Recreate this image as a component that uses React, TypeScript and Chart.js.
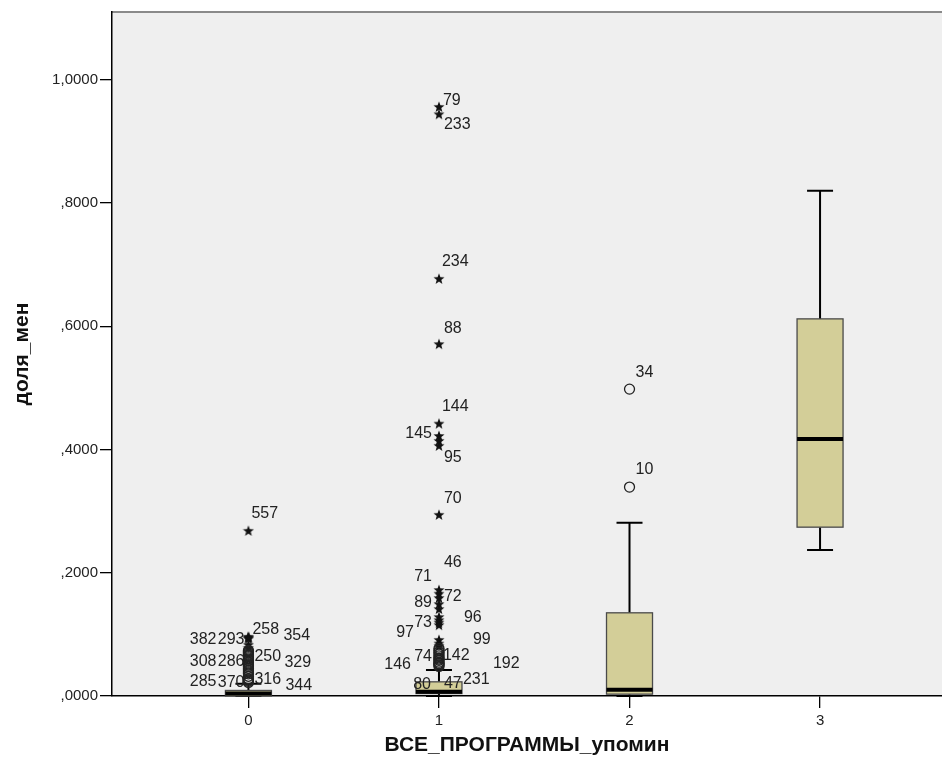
import React, { useEffect, useRef } from "react";
import { Chart, registerables } from "chart.js";
Chart.register(...registerables);

// ---------- data ----------
const categories = [0, 1, 2, 3];
const whiskerLow = [0, 0, 0, 0.237];
const q1 = [0, 0.004, 0.003, 0.274];
const medians = [0.004, 0.007, 0.01, 0.417];
const q3 = [0.009, 0.023, 0.135, 0.612];
const whiskerHigh = [0.02, 0.042, 0.281, 0.82];

const yTicks = [0, 0.2, 0.4, 0.6, 0.8, 1.0];

// extreme outliers (stars)
const starCategory = [0, 0, 0, 0, 0, 0, 0,
  1, 1, 1, 1, 1, 1, 1, 1, 1, 1, 1, 1, 1, 1, 1, 1, 1, 1, 1, 1, 1];
const starValue = [0.268, 0.096, 0.094, 0.095, 0.093, 0.083, 0.078,
  0.956, 0.944, 0.677, 0.571, 0.442, 0.422, 0.414, 0.406, 0.294, 0.172, 0.166, 0.159, 0.149, 0.141,
  0.128, 0.123, 0.119, 0.115, 0.091, 0.085, 0.081];
const starLabel = ["557", "258", "382", "293", "354", "", "",
  "79", "233", "234", "88", "144", "145", "", "95", "70", "46", "71", "72", "89", "",
  "73", "96", "", "97", "99", "", ""];

// mild outliers (circles)
const circleCategory = [0, 0, 0, 0, 0, 0, 0, 0, 0, 0, 0, 0, 0, 0, 0, 0, 0, 0, 0, 0, 0, 0,
  1, 1, 1, 1, 1, 1, 1, 1, 1, 1, 1, 1, 1,
  2, 2];
const circleValue = [0.074, 0.072, 0.07, 0.068, 0.066, 0.064, 0.062, 0.06, 0.058, 0.055, 0.052, 0.05, 0.048, 0.045, 0.042, 0.039, 0.036, 0.032, 0.028, 0.026, 0.024, 0.022,
  0.077, 0.074, 0.071, 0.068, 0.065, 0.062, 0.06, 0.058, 0.055, 0.053, 0.052, 0.05, 0.048,
  0.498, 0.339];
const circleLabel = ["", "", "", "", "", "", "250", "", "308", "286", "329", "", "", "", "", "", "", "", "316", "285", "370", "344",
  "", "", "74", "", "142", "", "", "146", "192", "", "80", "47", "231",
  "34", "10"];

// ---------- label placement (style, px offsets from the marker) ----------
const starLabelOffset = [[3, -17], [4, -7], [-32, 2], [-4, 2], [35, -3], [0, 0], [0, 0],
  [4, -6], [5, 10], [3, -17], [5, -16], [3, -17], [-7, -2], [0, 0], [5, 12], [5, -16], [5, -27], [-7, -17], [5, -1], [-7, -2], [0, 0],
  [-7, 5], [25, -3], [0, 0], [-25, 7], [34, 0], [0, 0], [0, 0]];
const circleLabelOffset = [[0, 0], [0, 0], [0, 0], [0, 0], [0, 0], [0, 0], [6, -1], [0, 0], [-32, 1], [-4, -1], [36, -1], [0, 0], [0, 0], [0, 0], [0, 0], [0, 0], [0, 0], [0, 0], [6, 1], [-32, 2], [-4, 1], [37, 3],
  [0, 0], [0, 0], [-7, 4], [0, 0], [4, 0], [0, 0], [0, 0], [-28, 4], [54, 1], [0, 0], [-8, 21], [5, 18], [24, 13],
  [6, -17], [6, -18]];

const FONT = '"Liberation Sans", Arial, sans-serif';

function makeStar(): HTMLCanvasElement {
  const c = document.createElement("canvas");
  c.width = 12;
  c.height = 12;
  const g = c.getContext("2d")!;
  g.fillStyle = "#111";
  g.beginPath();
  const cx = 6, cy = 6.3, ro = 5.8, ri = 2.4;
  for (let k = 0; k < 10; k++) {
    const r = k % 2 === 0 ? ro : ri;
    const a = -Math.PI / 2 + (k * Math.PI) / 5;
    const px = cx + r * Math.cos(a);
    const py = cy + r * Math.sin(a);
    if (k === 0) g.moveTo(px, py);
    else g.lineTo(px, py);
  }
  g.closePath();
  g.fill();
  return c;
}

// stretch the plot area to the right edge of the canvas (as in the original)
const stretchPlugin = {
  id: "stretchPlugin",
  afterLayout(chart: any) {
    const W = chart.width;
    const xs = chart.scales.x;
    xs.right = W;
    xs.width = W - xs.left;
    xs.configure();
    chart.chartArea.right = W;
    chart.chartArea.width = W - chart.chartArea.left;
  },
};

const bgPlugin = {
  id: "bgPlugin",
  beforeDraw(chart: any) {
    const { ctx, chartArea: a } = chart;
    ctx.save();
    ctx.fillStyle = "#efefef";
    ctx.fillRect(a.left, a.top, a.right - a.left, a.bottom - a.top);
    ctx.strokeStyle = "#8a8a8a";
    ctx.lineWidth = 2;
    ctx.beginPath();
    ctx.moveTo(a.left, a.top);
    ctx.lineTo(a.right, a.top);
    ctx.stroke();
    ctx.restore();
  },
};

const boxPlugin = {
  id: "boxPlugin",
  beforeDatasetsDraw(chart: any) {
    const { ctx } = chart;
    const xs = chart.scales.x;
    const ys = chart.scales.y;
    const halfW = 23;
    const capW = 13;
    ctx.save();
    categories.forEach((c, i) => {
      const x = xs.getPixelForValue(c);
      const yLow = ys.getPixelForValue(whiskerLow[i]);
      const yQ1 = ys.getPixelForValue(q1[i]);
      const yMed = ys.getPixelForValue(medians[i]);
      const yQ3 = ys.getPixelForValue(q3[i]);
      const yHigh = ys.getPixelForValue(whiskerHigh[i]);
      ctx.strokeStyle = "#000";
      ctx.lineWidth = 2;
      ctx.beginPath();
      ctx.moveTo(x, yHigh);
      ctx.lineTo(x, yQ3);
      ctx.moveTo(x, yQ1);
      ctx.lineTo(x, yLow);
      ctx.moveTo(x - capW, yHigh);
      ctx.lineTo(x + capW, yHigh);
      ctx.moveTo(x - capW, yLow);
      ctx.lineTo(x + capW, yLow);
      ctx.stroke();
      ctx.fillStyle = "#d3ce98";
      ctx.fillRect(x - halfW, yQ3, halfW * 2, yQ1 - yQ3);
      ctx.strokeStyle = "#4a4a4a";
      ctx.lineWidth = 1.3;
      ctx.strokeRect(x - halfW, yQ3, halfW * 2, yQ1 - yQ3);
      ctx.strokeStyle = "#000";
      ctx.lineWidth = 4;
      ctx.beginPath();
      ctx.moveTo(x - halfW, yMed);
      ctx.lineTo(x + halfW, yMed);
      ctx.stroke();
    });
    ctx.restore();
  },
};

const labelPlugin = {
  id: "labelPlugin",
  afterDatasetsDraw(chart: any) {
    const { ctx } = chart;
    const xs = chart.scales.x;
    const ys = chart.scales.y;
    ctx.save();
    ctx.font = `16px ${FONT}`;
    ctx.fillStyle = "#222";
    ctx.textBaseline = "middle";
    const draw = (cat: number[], val: number[], lab: string[], off: number[][]) => {
      lab.forEach((t, i) => {
        if (!t) return;
        const [dx, dy] = off[i];
        const x = xs.getPixelForValue(cat[i]) + dx;
        const y = ys.getPixelForValue(val[i]) + dy;
        ctx.textAlign = dx < 0 ? "right" : "left";
        ctx.fillText(t, x, y);
      });
    };
    draw(starCategory, starValue, starLabel, starLabelOffset);
    draw(circleCategory, circleValue, circleLabel, circleLabelOffset);
    ctx.restore();
  },
};

export default function App() {
  const ref = useRef<HTMLCanvasElement | null>(null);
  useEffect(() => {
    if (!ref.current) return;
    document.body.style.margin = "0";
    document.body.style.overflow = "hidden";
    const star = makeStar();
    const chart = new Chart(ref.current, {
      type: "scatter",
      data: {
        datasets: [
          {
            label: "circles",
            data: circleValue.map((v, i) => ({ x: circleCategory[i], y: v })),
            pointStyle: "circle",
            pointRadius: 5,
            borderColor: "#222",
            borderWidth: 1.3,
            backgroundColor: "rgba(0,0,0,0)",
          },
          {
            label: "stars",
            data: starValue.map((v, i) => ({ x: starCategory[i], y: v })),
            pointStyle: star as any,
            pointRadius: 6,
          },
        ],
      },
      options: {
        animation: false,
        responsive: false,
        maintainAspectRatio: false,
        devicePixelRatio: 1,
        layout: { padding: { top: 12, right: 0, left: 0, bottom: 0 } },
        plugins: { legend: { display: false }, tooltip: { enabled: false } },
        scales: {
          x: {
            type: "linear",
            min: -0.716,
            max: 3.64,
            afterBuildTicks: (s: any) => {
              s.ticks = categories.map((v) => ({ value: v }));
            },
            afterFit: (s: any) => {
              s.height = 72;
            },
            grid: { drawOnChartArea: false, drawTicks: true, tickLength: 12, color: "#000", lineWidth: 1.3 },
            border: { color: "#000", width: 1.5 },
            ticks: {
              padding: 4,
              color: "#222",
              font: { size: 15, family: FONT },
              callback: (v: any) => String(v),
            },
            title: {
              display: true,
              text: "ВСЕ_ПРОГРАММЫ_упомин",
              color: "#111",
              font: { size: 21, weight: "bold", family: FONT },
              padding: { top: 0, bottom: 10 },
            },
          },
          y: {
            type: "linear",
            min: 0,
            max: 1.11,
            afterBuildTicks: (s: any) => {
              s.ticks = yTicks.map((v) => ({ value: v }));
            },
            afterFit: (s: any) => {
              s.width = 112;
            },
            grid: { drawOnChartArea: false, drawTicks: true, tickLength: 12, color: "#000", lineWidth: 1.3 },
            border: { color: "#000", width: 1.5 },
            ticks: {
              padding: 2,
              color: "#222",
              font: { size: 15, family: FONT },
              callback: (v: any) => {
                const s = Number(v).toFixed(4).replace(".", ",");
                return s.startsWith("0") ? s.slice(1) : s;
              },
            },
            title: {
              display: true,
              text: "доля_мен",
              color: "#111",
              font: { size: 21, weight: "bold", family: FONT },
              padding: { top: 10, bottom: 0 },
            },
          },
        },
      },
      plugins: [stretchPlugin, bgPlugin, boxPlugin, labelPlugin],
    });
    return () => chart.destroy();
  }, []);
  return (
    <div style={{ position: "fixed", left: 0, top: 0, width: 942, height: 768, background: "#fff" }}>
      <canvas ref={ref} width={942} height={768} style={{ display: "block", width: 942, height: 768 }} />
    </div>
  );
}
